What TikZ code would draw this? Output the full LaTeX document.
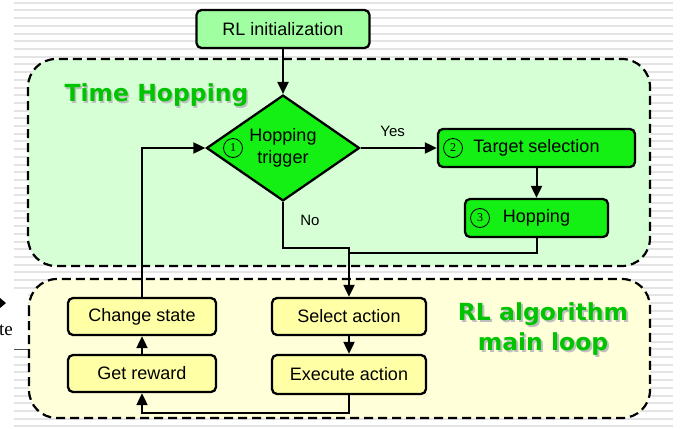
\documentclass[tikz,border=0pt]{standalone}
\usepackage{fontspec}
\setmainfont{Liberation Sans}
\newfontfamily\headfont{DejaVu Sans}
\newfontfamily\numfont{Liberation Serif}
\usetikzlibrary{shapes.geometric,arrows.meta}
\definecolor{stripe}{HTML}{E4E4E4}
\definecolor{hopzone}{HTML}{D6FFD6}
\definecolor{loopzone}{HTML}{FFFFDA}
\definecolor{lightgreen}{HTML}{A0FFA0}
\definecolor{brightgreen}{HTML}{14F014}
\definecolor{paleyellow}{HTML}{FFFFA6}
\definecolor{headgreen}{HTML}{00C400}
\tikzset{
  zone/.style={draw=black, dash pattern=on 9pt off 5pt, line width=2.2pt, rounded corners=28pt},
  box/.style={draw=black, line width=2.3pt, rounded corners=5pt, inner sep=0pt, font=\fontsize{18}{20}\selectfont},
  hopbox/.style={box, fill=brightgreen, minimum height=38pt},
  loopbox/.style={box, fill=paleyellow, minimum width=148pt, minimum height=37pt},
  num/.style={circle, draw=black, line width=0.8pt, minimum size=19pt, inner sep=0pt, font=\numfont\fontsize{12}{12}\selectfont},
  flow/.style={draw=black, line width=2pt},
  arr/.style={flow, -{Triangle[length=12pt,width=11pt]}},
  lab/.style={font=\fontsize{15}{15}\selectfont},
  head/.style={font=\headfont\bfseries\fontsize{23.5}{30}\selectfont, text=headgreen, align=center},
  shade/.style={head, text=black!25},
}
\begin{document}
\begin{tikzpicture}[x=1pt,y=-1pt]
  \useasboundingbox (0,0) rectangle (692,428);
  % striped backdrop
  \foreach \i in {0,...,55}
    \fill[stripe] (14,{1.8+7.7*\i}) rectangle (673,{3.8+7.7*\i});
  % cropped leftovers at the left edge
  \fill[white] (0,292) rectangle (28,349);
  \draw[black!70, line width=0.8pt] (14,349) -- (28,349);
  \fill (0,298) -- (6,303) -- (0,308) -- cycle;
  \node[font=\numfont\fontsize{19}{19}\selectfont, anchor=east, inner sep=0pt] (te) at (13,330) {te};
  % zones
  \draw[zone, fill=hopzone] (28,59) rectangle (650,266);
  \draw[zone, fill=loopzone] (29,279) rectangle (650,418);
  \node[shade] at (158,97) {Time Hopping};
  \node[head] (hophead) at (156.5,95) {Time Hopping};
  \node[shade] at (545,331) {RL algorithm\\main loop};
  \node[head] (loophead) at (543,329) {RL algorithm\\main loop};
  % time hopping part
  \node[box, fill=lightgreen, minimum width=173pt, minimum height=38pt] (init) at (283,29) {RL initialization};
  \node[diamond, draw=black, line width=2.3pt, fill=brightgreen, minimum width=153pt, minimum height=101pt,
        inner sep=0pt, align=center, font=\fontsize{18}{22}\selectfont] (trigger) at (283,148) {Hopping\\trigger};
  \node[num] (n1) at (233,148) {1};
  \node[hopbox, minimum width=197pt] (target) at (536.5,148) {Target selection};
  \node[num] (n2) at (453,148) {2};
  \node[hopbox, minimum width=143pt] (hop) at (536.5,218) {Hopping};
  \node[num] (n3) at (480,218) {3};
  % main loop part
  \node[loopbox] (change) at (142,316.5) {Change state};
  \node[loopbox] (reward) at (142,373.5) {Get reward};
  \node[loopbox, minimum width=154pt] (select) at (349,316.5) {Select action};
  \node[loopbox, minimum width=154pt, minimum height=39pt] (execute) at (349,374.5) {Execute action};
  % connectors
  \coordinate (join) at (349,248);
  \coordinate (hopjoin) at (349,253);
  \draw[arr] (init) -- (trigger);
  \draw[arr] (trigger) -- node[lab, pos=0.42, above=7pt] {Yes} (target);
  \draw[arr] (trigger.south) -- node[lab, pos=0.4, right=13pt] {No} (trigger.south |- join) -- (join) -- (select.north);
  \draw[arr] (target) -- (hop);
  \draw[flow] (hop.south) |- (hopjoin);
  \draw[arr] (select) -- (execute);
  \draw[arr] (execute.south) -- ++(0,18) -| (reward.south);
  \draw[arr] (reward) -- (change);
  \draw[arr] (change.north) |- (trigger.west);
\end{tikzpicture}
\end{document}
